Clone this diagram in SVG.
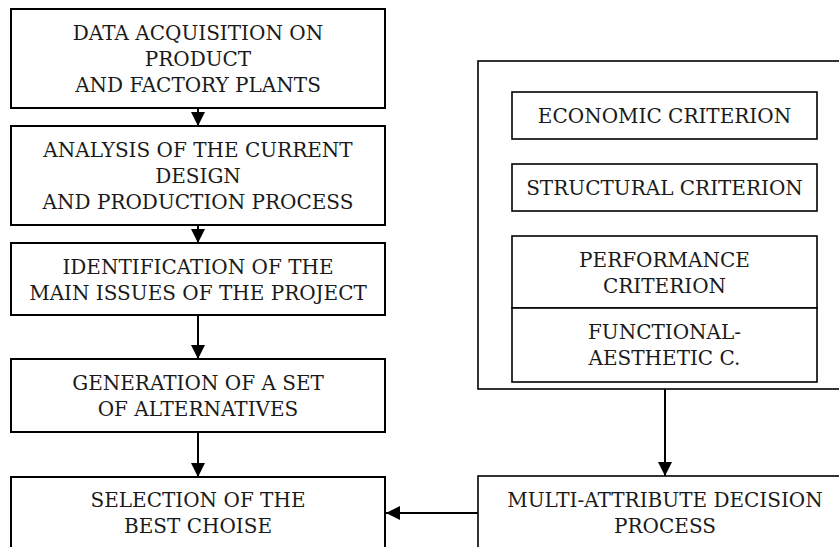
<svg xmlns="http://www.w3.org/2000/svg" width="839" height="547" viewBox="0 0 839 547">
<defs>
<style>
.box{fill:#fff;stroke:#000;stroke-width:2}
.rbox{fill:#fff;stroke:#000;stroke-width:1.6}
.t{font-family:'DejaVu Serif','Liberation Serif',serif;font-size:20px;fill:#1a1a1a;text-anchor:middle}
.c{stroke:#000;stroke-width:2;fill:none}
</style>
<marker id="ah" markerWidth="14" markerHeight="14" viewBox="0 0 14 14" refX="14" refY="7" orient="auto" markerUnits="userSpaceOnUse">
<path d="M0,0 L14,7 L0,14 Z" fill="#000"/>
</marker>
</defs>
<rect width="839" height="547" fill="#fff"/>
<g id="n1"><rect class="box" x="11" y="9" width="374" height="99"/>
<text class="t" x="198" y="40">DATA ACQUISITION ON</text>
<text class="t" x="198" y="66">PRODUCT</text>
<text class="t" x="198" y="92">AND FACTORY PLANTS</text></g>
<g id="n2"><rect class="box" x="11" y="126" width="374" height="99"/>
<text class="t" x="198" y="157">ANALYSIS OF THE CURRENT</text>
<text class="t" x="198" y="183">DESIGN</text>
<text class="t" x="198" y="209">AND PRODUCTION PROCESS</text></g>
<g id="n3"><rect class="box" x="11" y="243" width="374" height="72"/>
<text class="t" x="198" y="274">IDENTIFICATION OF THE</text>
<text class="t" x="198" y="300">MAIN ISSUES OF THE PROJECT</text></g>
<g id="n4"><rect class="box" x="11" y="359" width="374" height="73"/>
<text class="t" x="198" y="390">GENERATION OF A SET</text>
<text class="t" x="198" y="416">OF ALTERNATIVES</text></g>
<g id="n5"><rect class="box" x="11" y="477" width="374" height="90"/>
<text class="t" x="198" y="507">SELECTION OF THE</text>
<text class="t" x="198" y="533">BEST CHOISE</text></g>
<g id="criteria"><rect class="rbox" x="478" y="61" width="380" height="328"/></g>
<g id="c1"><rect class="rbox" x="512" y="92" width="305" height="47"/>
<text class="t" x="664.5" y="123">ECONOMIC CRITERION</text></g>
<g id="c2"><rect class="rbox" x="512" y="164" width="305" height="47"/>
<text class="t" x="664.5" y="195">STRUCTURAL CRITERION</text></g>
<g id="c3"><rect class="rbox" x="512" y="236" width="305" height="72"/>
<text class="t" x="664.5" y="267">PERFORMANCE</text>
<text class="t" x="664.5" y="293">CRITERION</text></g>
<g id="c4"><rect class="rbox" x="512" y="308" width="305" height="74"/>
<text class="t" x="664.5" y="339">FUNCTIONAL-</text>
<text class="t" x="664.5" y="365">AESTHETIC C.</text></g>
<g id="madp"><rect class="rbox" x="478" y="476" width="380" height="90"/>
<text class="t" x="665" y="507">MULTI-ATTRIBUTE DECISION</text>
<text class="t" x="665" y="533">PROCESS</text></g>
<g id="connectors">
<line class="c" x1="198" y1="108" x2="198" y2="126" marker-end="url(#ah)"/>
<line class="c" x1="198" y1="225" x2="198" y2="243" marker-end="url(#ah)"/>
<line class="c" x1="198" y1="315" x2="198" y2="359" marker-end="url(#ah)"/>
<line class="c" x1="198" y1="432" x2="198" y2="477" marker-end="url(#ah)"/>
<line class="c" x1="665" y1="389" x2="665" y2="476" marker-end="url(#ah)"/>
<line class="c" x1="478" y1="513" x2="386" y2="513" marker-end="url(#ah)"/>
</g>
</svg>
